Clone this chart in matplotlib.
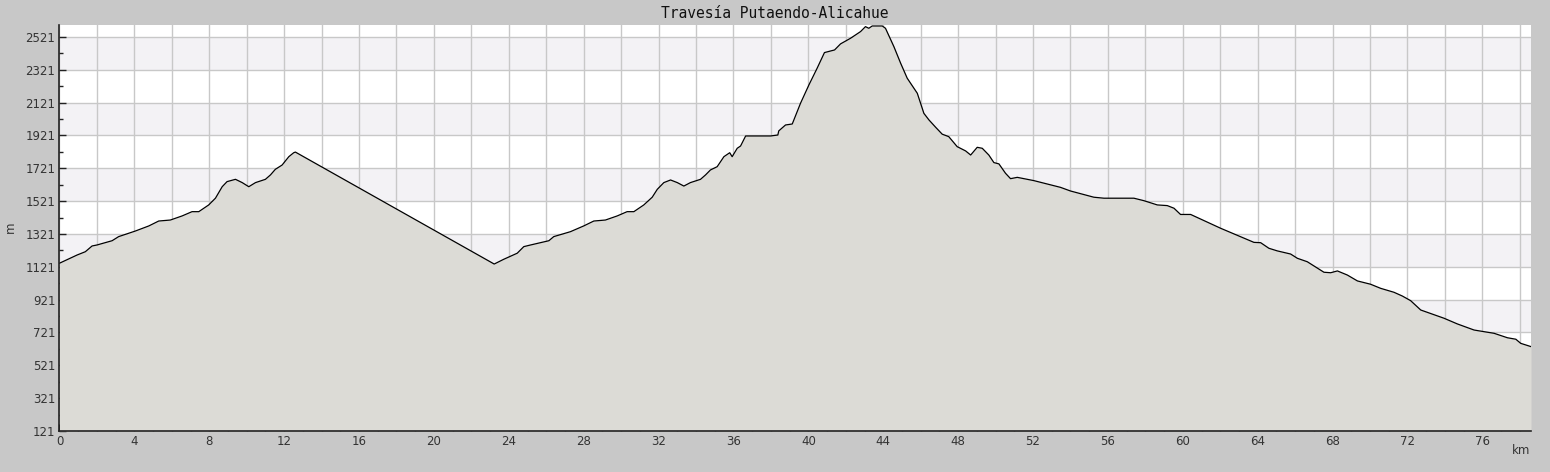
import matplotlib
matplotlib.use("Agg")
import matplotlib.pyplot as plt
from matplotlib.ticker import MultipleLocator, FixedLocator
import numpy as np

# profile (km, m)
dist_km = [0.0, 0.94, 1.38, 1.74, 2.0, 2.81, 3.16, 4.05, 4.77, 5.3, 5.92, 6.55, 7.08, 7.44,
           7.97, 8.33, 8.69, 8.95, 9.4, 9.76, 10.11, 10.47, 11.0, 11.27, 11.53, 11.89, 12.25,
           12.51, 12.6, 23.22, 23.73, 24.45, 24.8, 25.16, 26.14, 26.4, 27.29, 28.0, 28.54,
           29.16, 29.79, 30.32, 30.68, 31.21, 31.66, 31.93, 32.28, 32.64, 33.0, 33.35, 33.7,
           34.24, 34.51, 34.77, 35.13, 35.49, 35.8, 35.93, 36.2, 36.38, 36.65, 37.98, 38.37,
           38.42, 38.78, 39.14, 39.58, 40.03, 40.47, 40.86, 41.4, 41.72, 42.25, 42.79, 43.05,
           43.23, 43.41, 43.95, 44.12, 44.57, 44.93, 45.28, 45.64, 45.82, 46.17, 46.44, 46.8,
           47.15, 47.5, 47.95, 48.4, 48.67, 49.02, 49.29, 49.64, 49.91, 50.18, 50.53, 50.8,
           51.16, 52.05, 53.47, 54.0, 55.25, 55.79, 57.39, 57.92, 58.64, 59.17, 59.53, 59.88,
           60.42, 62.02, 63.8, 64.16, 64.6, 65.05, 65.76, 66.12, 66.65, 67.54, 67.9, 68.26,
           68.79, 69.33, 70.03, 70.57, 71.28, 71.73, 72.17, 72.71, 73.06, 73.95, 74.67, 75.56,
           76.63, 77.34, 77.79, 78.05, 78.6]
elev_m = [1143, 1193, 1213, 1248, 1254, 1280, 1305, 1339, 1370, 1400, 1406, 1431, 1457, 1457,
          1498, 1539, 1609, 1640, 1654, 1634, 1609, 1634, 1654, 1681, 1715, 1741, 1792,
          1816, 1820, 1138, 1167, 1204, 1244, 1254, 1280, 1305, 1335, 1370, 1400,
          1406, 1431, 1457, 1457, 1498, 1545, 1593, 1634, 1650, 1634, 1613, 1634,
          1654, 1681, 1711, 1731, 1792, 1816, 1792, 1843, 1857, 1918, 1918, 1924,
          1949, 1985, 1991, 2117, 2229, 2331, 2426, 2442, 2479, 2513, 2554, 2584,
          2574, 2588, 2588, 2574, 2462, 2361, 2270, 2209, 2178, 2056, 2016, 1971,
          1929, 1914, 1853, 1827, 1802, 1849, 1843, 1802, 1756, 1748, 1691, 1658,
          1666, 1646, 1605, 1583, 1545, 1539, 1539, 1524, 1498, 1494, 1478, 1440,
          1440, 1356, 1270, 1268, 1234, 1218, 1199, 1173, 1152, 1088, 1085, 1096,
          1071, 1035, 1015, 990, 966, 943, 915, 858, 844, 808, 773, 736,
          716, 689, 680, 655, 635]

y_ticks = [121, 321, 521, 721, 921, 1121, 1321, 1521, 1721, 1921, 2121, 2321, 2521]
x_labels = list(range(0, 80, 4))
title = "Travesía Putaendo-Alicahue"

y_min, y_max = 121, 2594
x_max = dist_km[-1]

fig = plt.figure(figsize=(15.5, 4.72), dpi=100, facecolor="#c8c8c8")
ax = fig.add_axes([59.5 / 1550, 41 / 472, 1471.5 / 1550, 406 / 472])
ax.set_facecolor("white")

# alternating horizontal bands
for lo in y_ticks[1::2]:
    ax.axhspan(lo, lo + 200, color="#f3f2f5", lw=0, zorder=0)

ax.set_xlim(0, x_max)
ax.set_ylim(y_min, y_max)

ax.xaxis.set_major_locator(MultipleLocator(2))
ax.xaxis.set_minor_locator(MultipleLocator(1))
ax.yaxis.set_major_locator(FixedLocator(y_ticks))
ax.yaxis.set_minor_locator(FixedLocator([t + 100 for t in y_ticks]))
ax.set_xticklabels([str(int(t)) if int(t) % 4 == 0 else "" for t in ax.get_xticks()])

ax.grid(True, which="major", color="#c8c8c8", lw=1, zorder=0.5)
ax.set_axisbelow(True)

ax.fill_between(dist_km, elev_m, y_min, color="#dcdbd6", lw=0, zorder=2)
ax.plot(dist_km, elev_m, color="black", lw=0.9, zorder=3)

for s in ["top", "right"]:
    ax.spines[s].set_visible(False)
for s in ["left", "bottom"]:
    ax.spines[s].set_color("#222222")
    ax.spines[s].set_linewidth(1.2)
    ax.spines[s].set_zorder(4)

ax.tick_params(which="both", direction="in", colors="#222222", labelcolor="#333333",
               labelsize=8.5, width=1)
ax.tick_params(which="major", length=5, pad=3)
ax.tick_params(which="minor", length=3)

fig.text(10 / 1550, 1 - 227 / 472, "m", rotation=90, ha="center", va="center",
         fontsize=8.5, color="#333333")
fig.text(1521 / 1550, 1 - 451 / 472, "km", ha="center", va="center",
         fontsize=8.5, color="#333333")
fig.text(775 / 1550, 1 - 14 / 472, title, ha="center", va="center",
         family="DejaVu Sans Mono", fontsize=10.5, color="#111111")

fig.savefig("out.png", dpi=100, facecolor=fig.get_facecolor())
